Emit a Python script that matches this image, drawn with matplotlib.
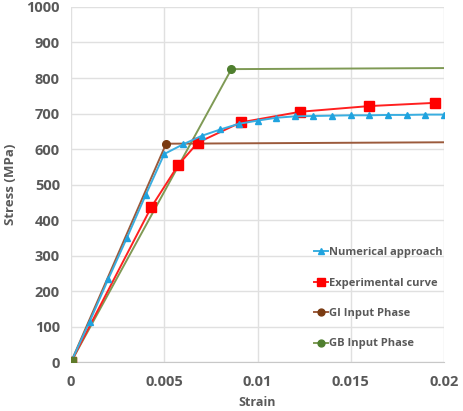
import matplotlib.pyplot as plt

# Numerical approach
num_strain = [0, 0.001, 0.002, 0.003, 0.004, 0.005, 0.006, 0.007, 0.008, 0.009, 0.010,
              0.011, 0.012, 0.013, 0.014, 0.015, 0.016, 0.017, 0.018, 0.019, 0.020]
num_stress = [0, 114, 234, 350, 470, 586, 613, 637, 655, 671, 680,
              688, 692, 693, 694, 695, 695, 696, 696, 697, 697]

# Experimental curve
exp_strain = [0, 0.0043, 0.00575, 0.0068, 0.0091, 0.0123, 0.0160, 0.0195]
exp_stress = [0, 436, 555, 618, 675, 705, 721, 730]

# GI / GB input phases
gi_strain = [0, 0.0051, 0.020]
gi_stress = [0, 615, 619]
gb_strain = [0, 0.0086, 0.020]
gb_stress = [0, 825, 828]

plt.rcParams['font.family'] = ['Open Sans', 'DejaVu Sans']
txt = "#595959"

fig = plt.figure(figsize=(4.64, 4.11), dpi=100)
ax = fig.add_axes([0.153, 0.119, 0.804, 0.864])

ax.plot(gb_strain, gb_stress, color="#7f9a55", lw=1.4, marker="o", ms=5.5,
        mfc="#4f7f2f", mec="#4f7f2f", markevery=[1], label="GB Input Phase", zorder=3)
ax.plot(gi_strain, gi_stress, color="#9b5a3c", lw=1.4, marker="o", ms=5.5,
        mfc="#7a3b12", mec="#7a3b12", markevery=[1], label="GI Input Phase", zorder=3)
ax.plot(exp_strain, exp_stress, color="#ff2020", lw=1.4, marker="s", ms=6.5,
        mfc="#ff0000", mec="#ff0000", label="Experimental curve", zorder=4)
ax.plot(num_strain, num_stress, color="#3aaee0", lw=1.4, marker="^", ms=5,
        mfc="#1fa3df", mec="#1fa3df", label="Numerical approach", zorder=5)
ax.plot([0], [0], marker="s", ms=6.5, color="#5f7a2a", zorder=6)

ax.set_xlim(0, 0.02)
ax.set_ylim(0, 1000)
ax.set_xticks([0, 0.005, 0.01, 0.015, 0.02])
ax.set_xticklabels(["0", "0.005", "0.01", "0.015", "0.02"])
ax.set_yticks(range(0, 1001, 100))
ax.grid(True, color="#e0e0e0", lw=1)
ax.set_axisbelow(True)
for s in ["top", "right", "left"]:
    ax.spines[s].set_visible(False)
ax.spines["bottom"].set_color("#c8c8c8")
ax.tick_params(length=0, labelsize=10.5, labelcolor=txt, pad=8)
ax.tick_params(axis="x", pad=9)
for lab in ax.get_xticklabels() + ax.get_yticklabels():
    lab.set_fontweight("bold")

ax.set_xlabel("Strain", fontsize=9, color=txt, fontweight="bold", labelpad=5)
ax.set_ylabel("Stress (MPa)", fontsize=9.5, color=txt, fontweight="bold", labelpad=7)

h, l = ax.get_legend_handles_labels()
order = [3, 2, 1, 0]
fig.legend([h[i] for i in order], [l[i] for i in order],
           loc="upper left", bbox_to_anchor=(0.655, 0.423), frameon=False,
           handlelength=1.3, handletextpad=0.1, labelspacing=1.75,
           markerscale=0.9, prop={"weight": "bold", "size": 8})
for t in fig.legends[0].get_texts():
    t.set_color(txt)

fig.savefig("out.png", dpi=100)
